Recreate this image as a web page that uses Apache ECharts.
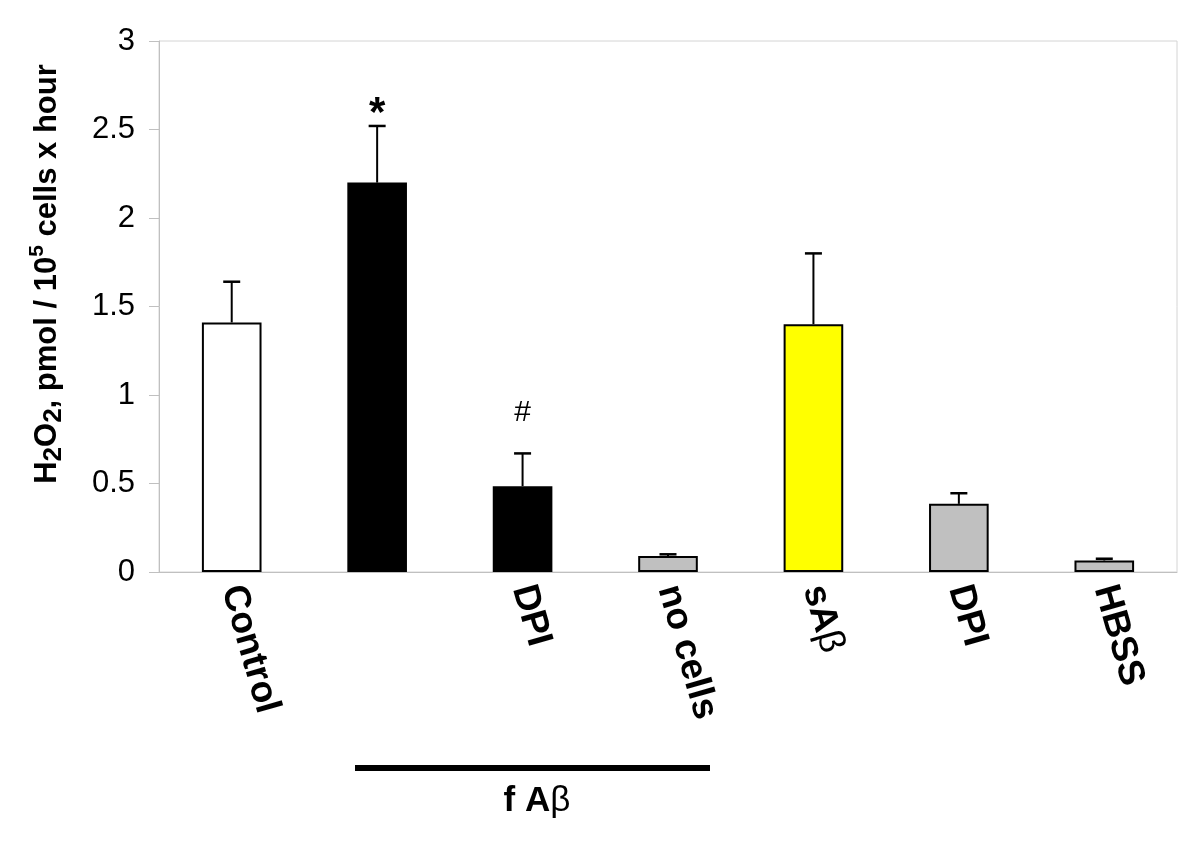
<!DOCTYPE html>
<html>
<head>
<meta charset="utf-8">
<script src="https://cdn.jsdelivr.net/npm/echarts@6/dist/echarts.min.js"></script>
<style>
  html, body { margin: 0; padding: 0; background: #fff; }
  #chart { width: 1200px; height: 848px; }
</style>
</head>
<body>
<div id="chart"></div>
<script>
  // 类目与数值
  var categories = ['Control', '', 'DPI', 'no cells', 'sAβ', 'DPI', 'HBSS'];
  var means = [1.41, 2.20, 0.485, 0.09, 1.40, 0.385, 0.065];
  var errTops = [1.64, 2.52, 0.67, 0.10, 1.80, 0.445, 0.075];
  var marks = ['', '*', '#', '', '', '', ''];
  var markValues = [null, 2.585, 0.90, null, null, null, null];
  var yTicks = [0, 0.5, 1, 1.5, 2, 2.5, 3];
  var fills = ['#ffffff', '#000000', '#000000', '#c0c0c0', '#ffff00', '#c0c0c0', '#c0c0c0'];

  var font = '"Liberation Sans", Arial, sans-serif';
  var chart = echarts.init(document.getElementById('chart'));

  var barData = means.map(function (v, i) {
    return { value: v, itemStyle: { color: fills[i] } };
  });
  var errData = means.map(function (v, i) {
    return [i, v, errTops[i]];
  });
  var markData = [];
  marks.forEach(function (m, i) {
    if (!m) return;
    var big = m === '*';
    markData.push({
      value: [i, markValues[i]],
      label: { formatter: m, fontSize: big ? 42 : 30, fontWeight: big ? 'bold' : 'normal' }
    });
  });

  var option = {
    animation: false,
    grid: {
      left: 159, right: 23, top: 41, bottom: 276,
      show: true, borderColor: '#d4d4d4', borderWidth: 1
    },
    xAxis: {
      type: 'category',
      data: categories,
      axisLine: { lineStyle: { color: '#c0c0c0', width: 1 } },
      axisTick: { show: false },
      axisLabel: {
        interval: 0,
        rotate: -74,
        margin: 14,
        fontFamily: font,
        fontSize: 37,
        fontWeight: 'bold',
        color: '#000',
        formatter: function (v) { return v.replace('β', '{g|β}'); },
        rich: { g: { fontFamily: font, fontSize: 37, fontWeight: 'normal', color: '#000' } }
      }
    },
    yAxis: {
      type: 'value',
      min: yTicks[0],
      max: yTicks[yTicks.length - 1],
      interval: 0.5,
      splitLine: { show: false },
      axisLine: { show: true, lineStyle: { color: '#c0c0c0', width: 1 } },
      axisTick: { show: true, length: 10, lineStyle: { color: '#c0c0c0' } },
      axisLabel: {
        margin: 24,
        fontFamily: font,
        fontSize: 31,
        color: '#000'
      }
    },
    series: [
      {
        type: 'bar',
        data: barData,
        barWidth: '41%',
        itemStyle: { borderColor: '#000', borderWidth: 2 },
        z: 2
      },
      {
        // 误差线
        type: 'custom',
        data: errData,
        z: 3,
        renderItem: function (params, api) {
          var x = api.coord([api.value(0), api.value(1)]);
          var t = api.coord([api.value(0), api.value(2)]);
          var half = 8.5;
          return {
            type: 'group',
            children: [
              { type: 'line', shape: { x1: x[0], y1: x[1], x2: t[0], y2: t[1] },
                style: { stroke: '#000', lineWidth: 2 } },
              { type: 'line', shape: { x1: t[0] - half, y1: t[1], x2: t[0] + half, y2: t[1] },
                style: { stroke: '#000', lineWidth: 2.5 } }
            ]
          };
        }
      },
      {
        // 显著性标记
        type: 'scatter',
        data: markData,
        symbolSize: 0,
        itemStyle: { opacity: 1 },
        label: {
          show: true,
          position: 'inside',
          fontFamily: font,
          color: '#000'
        },
        z: 4
      }
    ],
    graphic: [
      {
        type: 'text',
        x: 47, y: 274,
        rotation: Math.PI / 2,
        style: {
          text: 'H{sub|2}O{sub|2}, pmol / 10{sup|5} cells x hour',
          fontFamily: font,
          fontSize: 31,
          fontWeight: 'bold',
          fill: '#000',
          align: 'center',
          verticalAlign: 'middle',
          rich: {
            sub: { fontFamily: font, fontSize: 26, fontWeight: 'bold', lineHeight: 40, verticalAlign: 'bottom', padding: [5, 0, 0, 0] },
            sup: { fontFamily: font, fontSize: 21, fontWeight: 'bold', lineHeight: 40, verticalAlign: 'top', padding: [0, 0, 10, 0] }
          }
        }
      },
      {
        type: 'rect',
        shape: { x: 355, y: 765, width: 355, height: 6 },
        style: { fill: '#000' }
      },
      {
        type: 'text',
        x: 537, y: 801,
        style: {
          text: 'f A{g|β}',
          fontFamily: font,
          fontSize: 35,
          fontWeight: 'bold',
          fill: '#000',
          align: 'center',
          verticalAlign: 'middle',
          rich: { g: { fontFamily: font, fontSize: 35, fontWeight: 'normal' } }
        }
      }
    ]
  };

  chart.setOption(option);
</script>
</body>
</html>
